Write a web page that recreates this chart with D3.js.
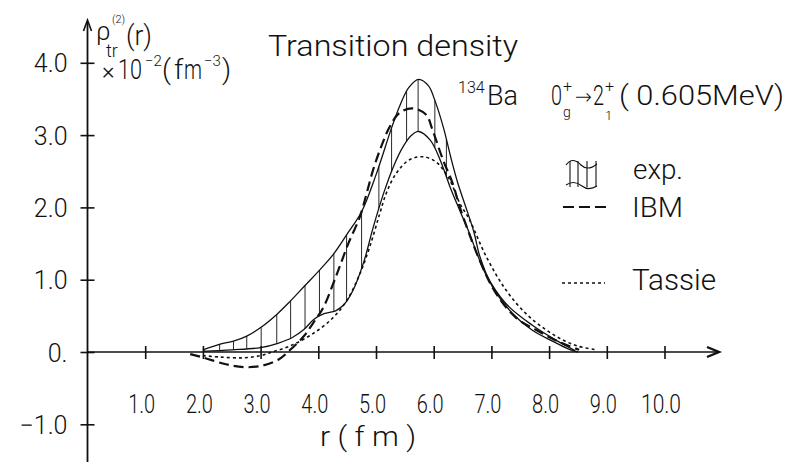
<!DOCTYPE html>
<html>
<head>
<meta charset="utf-8">
<script src="https://cdn.jsdelivr.net/npm/d3@7"></script>
<style>
  html, body { margin: 0; padding: 0; background: #fff; }
  svg { display: block; }
  text { font-family: Roboto, "DejaVu Sans", sans-serif; font-weight: 300; fill: #111; }
</style>
</head>
<body>
<svg id="chart" width="786" height="467"></svg>
<script>
// ---------- data ----------
const xTickValues = [1, 2, 3, 4, 5, 6, 7, 8, 9, 10];
const xTickLabels = ["1.0", "2.0", "3.0", "4.0", "5.0", "6.0", "7.0", "8.0", "9.0", "10.0"];
const yTickValues = [-1, 0, 1, 2, 3, 4];
const yTickLabels = ["\u22121.0", "0.", "1.0", "2.0", "3.0", "4.0"];

// experimental band: upper and lower boundary [r (fm), rho x10^-2 fm^-3]
const expUpper = [
  [2.0, 0.03], [2.3, 0.11], [2.53, 0.15], [2.76, 0.22], [3.02, 0.35], [3.28, 0.52],
  [3.51, 0.70], [3.77, 0.92], [4.03, 1.14], [4.26, 1.35], [4.49, 1.62], [4.75, 1.94],
  [5.0, 2.45], [5.27, 3.10], [5.42, 3.42], [5.57, 3.66], [5.74, 3.77], [5.91, 3.68],
  [6.02, 3.48], [6.17, 3.10], [6.3, 2.68], [6.42, 2.33], [6.55, 2.02], [6.7, 1.65],
  [6.8, 1.32], [7.02, 0.90], [7.37, 0.53], [7.71, 0.30], [8.06, 0.15], [8.34, 0.04], [8.5, 0.0]
];
const expLower = [
  [2.0, 0.01], [2.5, 0.03], [3.0, 0.06], [3.3, 0.12], [3.55, 0.20], [3.75, 0.31],
  [3.92, 0.45], [4.1, 0.53], [4.3, 0.57], [4.45, 0.66], [4.6, 0.85], [4.79, 1.25],
  [4.95, 1.72], [5.13, 2.19], [5.3, 2.56], [5.47, 2.84], [5.62, 3.00], [5.74, 3.05],
  [5.94, 2.93], [6.11, 2.66], [6.28, 2.29], [6.45, 1.96], [6.62, 1.64], [6.77, 1.32],
  [6.9, 1.08], [7.25, 0.67], [7.71, 0.37], [8.17, 0.14], [8.45, 0.02]
];
const ibm = [
  [1.78, -0.03], [2.02, -0.08], [2.4, -0.17], [2.71, -0.21], [3.02, -0.19], [3.32, -0.10],
  [3.5, 0.02], [3.74, 0.21], [3.91, 0.40], [4.09, 0.62], [4.26, 0.95], [4.37, 1.18],
  [4.52, 1.50], [4.72, 1.87], [4.84, 2.20], [4.95, 2.52], [5.09, 2.84], [5.24, 3.12],
  [5.41, 3.31], [5.64, 3.37], [5.87, 3.28], [5.98, 3.07], [6.16, 2.66], [6.33, 2.33],
  [6.45, 2.01], [6.79, 1.28], [7.08, 0.81], [7.42, 0.48], [7.83, 0.28], [8.23, 0.12], [8.52, 0.03]
];
const tassie = [
  [2.0, -0.05], [2.3, -0.07], [2.7, -0.08], [3.0, -0.05], [3.2, 0.0], [3.5, 0.08],
  [3.9, 0.25], [4.25, 0.47], [4.5, 0.72], [4.72, 1.08], [4.89, 1.45], [5.06, 1.90],
  [5.18, 2.20], [5.35, 2.47], [5.58, 2.66], [5.81, 2.70], [6.04, 2.63], [6.27, 2.39],
  [6.45, 2.06], [6.62, 1.83], [6.91, 1.32], [7.25, 0.86], [7.6, 0.53], [7.94, 0.31],
  [8.23, 0.17], [8.5, 0.08], [8.83, 0.03]
];
// r positions of the vertical hatch lines in the experimental band
const hatchR = [2.02, 2.29, 2.53, 2.76, 3.01, 3.28, 3.52, 3.77, 4.02, 4.27, 4.49, 4.75,
                5.05, 5.27, 5.53, 5.73, 6.02, 6.22];

// ---------- scales ----------
const svg = d3.select("#chart");
svg.append("rect").attr("width", 786).attr("height", 467).attr("fill", "#fff");

const x = d3.scaleLinear().domain([0, 10]).range([87.5, 664.5]);
const y = d3.scaleLinear().domain([-1, 4]).range([424.3, 62.8]);

const ink = "#111";

// ---------- axes ----------
const xAxis = d3.axisBottom(x).tickValues(xTickValues)
  .tickFormat((d, i) => xTickLabels[i]).tickSize(7).tickPadding(0);
const gx = svg.append("g").attr("transform", `translate(0,${y(0)})`).call(xAxis);
gx.select(".domain").remove();
gx.selectAll(".tick line").attr("y1", -6).attr("y2", 7).attr("stroke", ink).attr("stroke-width", 1.6);
gx.selectAll(".tick text")
  .attr("y", 61).attr("dy", null).attr("x", -4)
  .attr("font-size", 26)
  .attr("textLength", (d, i) => xTickLabels[i].length > 3 ? 40 : 27)
  .attr("lengthAdjust", "spacingAndGlyphs")
  .style("font-family", "Roboto, 'DejaVu Sans', sans-serif").style("font-weight", 300)
  .attr("fill", ink);

const yAxis = d3.axisLeft(y).tickValues(yTickValues)
  .tickFormat((d, i) => yTickLabels[i]).tickSize(7).tickPadding(13);
const gy = svg.append("g").attr("transform", `translate(${x(0)},0)`).call(yAxis);
gy.select(".domain").remove();
gy.selectAll(".tick line").attr("x1", 7).attr("x2", -7).attr("stroke", ink).attr("stroke-width", 1.6);
gy.selectAll(".tick text")
  .attr("font-size", 25).attr("dy", "0.36em")
  .style("font-family", "Roboto, 'DejaVu Sans', sans-serif").style("font-weight", 300)
  .attr("fill", ink);

// axis lines with arrows
svg.append("line").attr("x1", x(0)).attr("x2", 718).attr("y1", y(0)).attr("y2", y(0))
  .attr("stroke", ink).attr("stroke-width", 1.4);
svg.append("path").attr("d", `M707,${y(0) - 5} L719,${y(0)} L707,${y(0) + 5}`)
  .attr("fill", "none").attr("stroke", ink).attr("stroke-width", 2.4);
svg.append("line").attr("x1", x(0)).attr("x2", x(0)).attr("y1", 462).attr("y2", 22)
  .attr("stroke", ink).attr("stroke-width", 1.8);
svg.append("path").attr("d", `M${x(0) - 4},31 L${x(0)},20 L${x(0) + 4},31`)
  .attr("fill", "none").attr("stroke", ink).attr("stroke-width", 1.6);

// ---------- curves ----------
const line = d3.line().x(d => x(d[0])).y(d => y(d[1])).curve(d3.curveCatmullRom.alpha(0.5));

const upperPath = svg.append("path").datum(expUpper).attr("d", line)
  .attr("fill", "none").attr("stroke", ink).attr("stroke-width", 1.3);
const lowerPath = svg.append("path").datum(expLower).attr("d", line)
  .attr("fill", "none").attr("stroke", ink).attr("stroke-width", 1.3);

function yOnPath(node, px) {
  const total = node.getTotalLength();
  let lo = 0, hi = total;
  for (let k = 0; k < 40; k++) {
    const mid = (lo + hi) / 2;
    if (node.getPointAtLength(mid).x < px) lo = mid; else hi = mid;
  }
  return node.getPointAtLength((lo + hi) / 2).y;
}

svg.append("g").selectAll("line").data(hatchR).join("line")
  .attr("x1", d => x(d)).attr("x2", d => x(d))
  .attr("y1", d => yOnPath(upperPath.node(), x(d)))
  .attr("y2", d => yOnPath(lowerPath.node(), x(d)))
  .attr("stroke", ink).attr("stroke-width", 0.9);

svg.append("path").datum(ibm).attr("d", line)
  .attr("fill", "none").attr("stroke", ink).attr("stroke-width", 2.2)
  .attr("stroke-dasharray", "10,5");
svg.append("path").datum(tassie).attr("d", line)
  .attr("fill", "none").attr("stroke", ink).attr("stroke-width", 1.6)
  .attr("stroke-dasharray", "3,3");

// ---------- texts ----------
function txt(xp, yp, s, size, opts = {}) {
  const t = svg.append("text").attr("x", xp).attr("y", yp).attr("font-size", size).text(s);
  if (opts.len) t.attr("textLength", opts.len).attr("lengthAdjust", "spacingAndGlyphs");
  if (opts.anchor) t.attr("text-anchor", opts.anchor);
  return t;
}
// one text element made of positioned pieces: [x, y, string, size, length?]
function multi(pieces) {
  const t = svg.append("text");
  pieces.forEach(p => {
    const s = t.append("tspan").attr("x", p[0]).attr("y", p[1]).attr("font-size", p[3]).text(p[2]);
    if (p[4]) s.attr("textLength", p[4]).attr("lengthAdjust", "spacingAndGlyphs");
  });
  return t;
}

// title
txt(268, 56, "Transition density", 30, { len: 250 });

// y-axis label
multi([
  [96, 40, "\u03C1", 26],
  [112, 23, "(2)", 11],
  [106, 57, "tr", 18],
  [126, 45, "(r)", 28, 26]
]);
multi([
  [102, 79, "\u00D7", 24],
  [118, 79, "10", 28, 24],
  [145, 66, "\u22122", 15],
  [162, 79, "(", 28],
  [174, 79, "f", 28],
  [184, 79, "m", 28, 18],
  [204, 66, "\u22123", 15],
  [222, 79, ")", 28]
]);

// reaction label
multi([
  [458, 93, "134", 16],
  [487, 105, "Ba", 28, 31]
]);
multi([
  [551, 105, "0", 28, 11],
  [563, 117, "g", 14],
  [563, 92, "+", 16],
  [575, 104, "\u2192", 22, 17],
  [593, 105, "2", 28, 11],
  [605, 120, "1", 13],
  [605, 92, "+", 16],
  [619, 105, "( 0.605MeV)", 28, 165]
]);

// x-axis title
txt(320, 446, "r ( f m )", 28, { len: 96 });

// ---------- legend ----------
// experimental band symbol
const lg = svg.append("g").attr("stroke", ink).attr("fill", "none").attr("stroke-width", 1.1);
lg.append("path").attr("d", "M566,165 C571,158 576,160 581,165 C586,170 592,168 597,164");
lg.append("path").attr("d", "M566,185 C572,181 577,182 582,186 C587,190 592,189 597,186");
[570, 578, 587, 596].forEach(px => {
  lg.append("line").attr("x1", px).attr("x2", px).attr("y1", 161).attr("y2", 187);
});
txt(633, 179, "exp.", 28, { len: 50 });

svg.append("line").attr("x1", 563).attr("x2", 607).attr("y1", 207).attr("y2", 207)
  .attr("stroke", ink).attr("stroke-width", 2.2).attr("stroke-dasharray", "11,5");
txt(632, 217, "IBM", 27, { len: 51 });

svg.append("line").attr("x1", 562).attr("x2", 605).attr("y1", 283).attr("y2", 283)
  .attr("stroke", ink).attr("stroke-width", 1.5).attr("stroke-dasharray", "3,3");
txt(632, 290, "Tassie", 29, { len: 84 });
</script>
</body>
</html>
